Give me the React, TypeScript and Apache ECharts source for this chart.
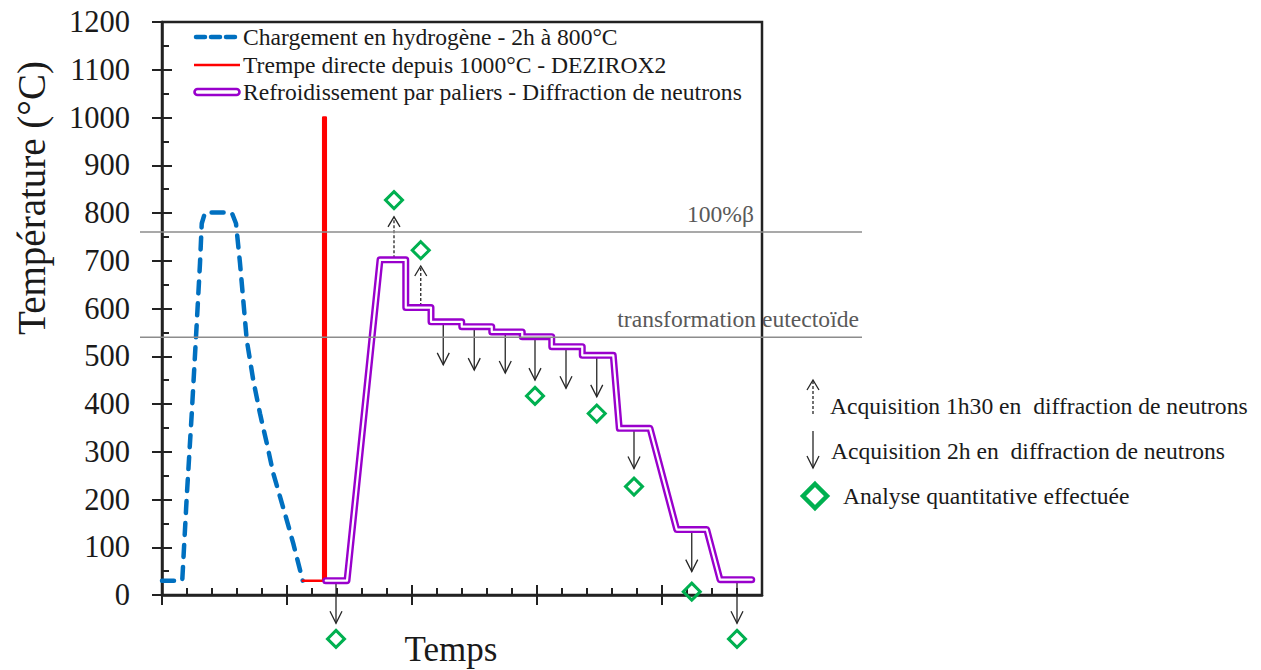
import React, { useEffect, useRef } from 'react';
import * as echarts from 'echarts';

const FONT = 'Liberation Serif';

// axis ticks
const xMajorTicks = [0, 5, 10, 15, 20];
const xMinorTicks = [0, 1, 2, 3, 4, 5, 6, 7, 8, 9, 10, 11, 12, 13, 14, 15, 16, 17, 18, 19, 20, 21, 22, 23, 24];
const yMajorTicks = [0, 100, 200, 300, 400, 500, 600, 700, 800, 900, 1000, 1100, 1200];
const yMinorTicks = [0, 50, 100, 150, 200, 250, 300, 350, 400, 450, 500, 550, 600, 650, 700, 750, 800, 850, 900, 950, 1000, 1050, 1100, 1150, 1200];

// series (time in arbitrary units, temperature in °C)
const hydrogenCharge: [number, number][] = [
  [0, 30], [0.81, 30], [0.99, 206], [1.19, 380], [1.39, 569], [1.52, 695], [1.59, 778], [1.72, 801],
  [2.79, 801], [2.96, 778], [3.12, 695], [3.39, 534], [3.65, 450], [3.92, 380], [4.19, 318],
  [4.45, 255], [4.72, 206], [4.99, 157], [5.25, 108], [5.63, 30],
];
const directQuench: [number, number][] = [
  [5.63, 30], [6.45, 30], [6.45, 1000], [6.55, 1000], [6.55, 30],
];
const stepCooling: [number, number][] = [
  [6.55, 30], [7.4, 30], [8.72, 702], [9.75, 702], [9.75, 602], [10.76, 602], [10.76, 572],
  [11.99, 572], [11.99, 562], [13.19, 562], [13.19, 551], [14.41, 551], [14.41, 541],
  [15.59, 541], [15.59, 520], [16.81, 520], [16.81, 502], [18.05, 502], [18.29, 349],
  [19.52, 349], [20.59, 137], [21.79, 137], [22.32, 32], [23.59, 32],
];
// arrows: [time, from °C, to °C]
const acquisition1h30: [number, number, number][] = [
  [9.28, 705, 792], [10.35, 605, 689],
];
const acquisition2h: [number, number, number][] = [
  [6.96, 30, -59], [11.25, 570, 482], [12.49, 560, 471], [13.73, 550, 465], [14.92, 540, 450],
  [16.16, 520, 433], [17.39, 500, 415], [18.88, 349, 265], [21.19, 137, 49], [23.0, 32, -59],
];
const quantitativeAnalysis: [number, number][] = [
  [6.96, -92], [9.28, 827], [10.35, 722], [14.92, 417], [17.39, 380], [18.88, 227], [21.19, 7], [23.0, -92],
];
const thresholds = [760, 540];
const thresholdLabels = ['100%β', 'transformation eutectoïde'];

const seriesNames = [
  'Chargement en hydrogène - 2h à 800°C',
  'Trempe directe depuis 1000°C - DEZIROX2',
  'Refroidissement par paliers - Diffraction de neutrons',
];
const markerNames = [
  'Acquisition 1h30 en  diffraction de neutrons',
  'Acquisition 2h en  diffraction de neutrons',
  'Analyse quantitative effectuée',
];
const yAxisTitle = 'Température (°C)';
const xAxisTitle = 'Temps';

const BLUE = '#0070C0';
const RED = '#FF0000';
const PURPLE = '#9900CC';
const GREEN = '#00B050';
const INK = '#1a1a1a';
const ARROW = '#262626';
const LEGEND_SIZE = 23.6;

const makeArrow = (dashed: boolean) => (params: any, api: any) => {
  const x = api.value(0);
  const p1 = api.coord([x, api.value(1)]);
  const p2 = api.coord([x, api.value(2)]);
  const dir = p2[1] > p1[1] ? 1 : -1;
  const hw = 6;
  const hh = dashed ? 10 : 12;
  return {
    type: 'group',
    children: [
      {
        type: 'line',
        shape: { x1: p1[0], y1: p1[1], x2: p2[0], y2: p2[1] },
        style: { stroke: ARROW, lineWidth: 1.3, lineDash: dashed ? [3, 2] : null },
      },
      {
        type: 'polyline',
        shape: { points: [[p2[0] - hw, p2[1] - dir * hh], [p2[0], p2[1]], [p2[0] + hw, p2[1] - dir * hh]] },
        style: { stroke: ARROW, lineWidth: 1.3, fill: 'none' },
      },
    ],
  };
};

const textStyle = (text: string, size: number, fill: string, align = 'left', vAlign = 'middle') => ({
  text,
  fill,
  fontFamily: FONT,
  fontSize: size,
  font: `${size}px "${FONT}", serif`,
  align,
  verticalAlign: vAlign,
  textAlign: align,
  textVerticalAlign: vAlign,
});

export default function App() {
  const ref = useRef<HTMLDivElement>(null);
  useEffect(() => {
    if (!ref.current) return;
    const chart = echarts.init(ref.current, undefined, { renderer: 'svg' });

    const baseX = { type: 'value', min: 0, max: 24, position: 'bottom', gridIndex: 0, splitLine: { show: false }, axisLabel: { show: false } };
    const baseY = { type: 'value', min: 0, max: 1200, position: 'left', gridIndex: 0, splitLine: { show: false } };

    const legendRows = [37, 65, 92];

    chart.setOption({
      animation: false,
      textStyle: { fontFamily: FONT },
      grid: { left: 162, top: 22, width: 600, height: 573, show: true, borderColor: '#222', borderWidth: 2.5, backgroundColor: 'transparent' },
      xAxis: [
        { ...baseX, interval: 5, axisLine: { show: true, onZero: false, lineStyle: { color: '#222', width: 2.5 } }, axisTick: { show: true, inside: false, length: 10, customValues: xMajorTicks, lineStyle: { color: '#222', width: 2 } } },
        { ...baseX, interval: 1, axisLine: { show: false, onZero: false }, axisTick: { show: true, inside: true, length: 7, customValues: xMinorTicks, lineStyle: { color: '#222', width: 2 } } },
        { ...baseX, interval: 5, axisLine: { show: false, onZero: false }, axisTick: { show: true, inside: true, length: 10, customValues: xMajorTicks, lineStyle: { color: '#222', width: 2 } } },
      ],
      yAxis: [
        {
          ...baseY, interval: 100,
          axisLine: { show: true, onZero: false, lineStyle: { color: '#222', width: 2.5 } },
          axisTick: { show: true, inside: false, length: 10, customValues: yMajorTicks, lineStyle: { color: '#222', width: 2 } },
          axisLabel: { show: true, margin: 32, fontFamily: FONT, fontSize: 30.5, color: INK, customValues: yMajorTicks, formatter: (v: number) => String(v) },
        },
        { ...baseY, interval: 50, axisLine: { show: false, onZero: false }, axisLabel: { show: false }, axisTick: { show: true, inside: true, length: 7, customValues: yMinorTicks, lineStyle: { color: '#222', width: 2 } } },
        { ...baseY, interval: 100, axisLine: { show: false, onZero: false }, axisLabel: { show: false }, axisTick: { show: true, inside: true, length: 10, customValues: yMajorTicks, lineStyle: { color: '#222', width: 2 } } },
      ],
      series: [
        {
          name: seriesNames[0], type: 'line', data: hydrogenCharge, symbol: 'none', z: 2,
          lineStyle: { color: BLUE, width: 4.5, type: [12, 10], cap: 'round', join: 'round' },
        },
        {
          name: seriesNames[1], type: 'line', data: directQuench, symbol: 'none', z: 2,
          lineStyle: { color: RED, width: 2.6, join: 'round', cap: 'round' },
        },
        {
          name: 'arrows2h', type: 'custom', renderItem: makeArrow(false), data: acquisition2h, clip: false, z: 1,
          encode: { x: 0, y: [1, 2] },
        },
        {
          name: 'arrows1h30', type: 'custom', renderItem: makeArrow(true), data: acquisition1h30, clip: false, z: 1,
          encode: { x: 0, y: [1, 2] },
        },
        {
          name: seriesNames[2], type: 'line', data: stepCooling, symbol: 'none', z: 3,
          lineStyle: { color: PURPLE, width: 7, join: 'round', cap: 'round' },
        },
        {
          name: 'inner', type: 'line', data: stepCooling, symbol: 'none', z: 3,
          lineStyle: { color: '#ffffff', width: 2.2, join: 'round', cap: 'round' },
        },
        {
          name: 'thresholds', type: 'custom', clip: false, z: 5,
          data: thresholds.map((t) => [0, t]),
          encode: { x: 0, y: 1 },
          renderItem: (params: any, api: any) => {
            const cs = params.coordSys;
            const y = api.coord([0, api.value(1)])[1];
            const idx = params.dataIndex;
            const left = cs.x - 22;
            const right = cs.x + cs.width + 100;
            const tx = idx === 0 ? cs.x + cs.width - 8 : right - 3;
            return {
              type: 'group',
              children: [
                { type: 'line', shape: { x1: left, y1: y, x2: right, y2: y }, style: { stroke: '#8c8c8c', lineWidth: 1.5 } },
                { type: 'text', x: tx, y: y - 6, style: textStyle(thresholdLabels[idx], LEGEND_SIZE, '#595959', 'right', 'bottom') },
              ],
            };
          },
        },
        {
          name: markerNames[2], type: 'scatter', data: quantitativeAnalysis, clip: false, z: 6,
          symbol: 'diamond', symbolSize: 17,
          itemStyle: { color: 'rgba(255,255,255,0)', borderColor: GREEN, borderWidth: 3, opacity: 1 },
        },
      ],
      graphic: [
        { type: 'text', x: 31, y: 198, rotation: Math.PI / 2, style: textStyle(yAxisTitle, 39, INK, 'center', 'middle') },
        { type: 'text', x: 451, y: 649, style: textStyle(xAxisTitle, 35, INK, 'center', 'middle') },
        // legend (series)
        { type: 'line', shape: { x1: 196, y1: legendRows[0], x2: 238, y2: legendRows[0] }, style: { stroke: BLUE, lineWidth: 4.5, lineDash: [9, 6], lineCap: 'round' } },
        { type: 'line', shape: { x1: 194, y1: legendRows[1], x2: 240, y2: legendRows[1] }, style: { stroke: RED, lineWidth: 2.5 } },
        { type: 'rect', shape: { x: 194.5, y: legendRows[2] - 3, width: 45, height: 6, r: 3 }, style: { stroke: PURPLE, lineWidth: 2.6, fill: '#fff' } },
        { type: 'text', x: 243, y: legendRows[0], style: textStyle(seriesNames[0], LEGEND_SIZE, INK) },
        { type: 'text', x: 243, y: legendRows[1], style: textStyle(seriesNames[1], LEGEND_SIZE, INK) },
        { type: 'text', x: 243, y: legendRows[2], style: textStyle(seriesNames[2], LEGEND_SIZE, INK) },
        // legend (markers)
        { type: 'line', shape: { x1: 813, y1: 414, x2: 813, y2: 380 }, style: { stroke: ARROW, lineWidth: 1.3, lineDash: [3, 2] } },
        { type: 'polyline', shape: { points: [[807, 390], [813, 380], [819, 390]] }, style: { stroke: ARROW, lineWidth: 1.3, fill: 'none' } },
        { type: 'line', shape: { x1: 813, y1: 431, x2: 813, y2: 468 }, style: { stroke: ARROW, lineWidth: 1.3 } },
        { type: 'polyline', shape: { points: [[807, 456], [813, 468], [819, 456]] }, style: { stroke: ARROW, lineWidth: 1.3, fill: 'none' } },
        { type: 'polygon', shape: { points: [[815, 484], [827, 496], [815, 508], [803, 496]] }, style: { stroke: GREEN, lineWidth: 4.5, fill: 'none' } },
        { type: 'text', x: 830, y: 406, style: textStyle(markerNames[0], LEGEND_SIZE, INK) },
        { type: 'text', x: 831, y: 451, style: textStyle(markerNames[1], LEGEND_SIZE, INK) },
        { type: 'text', x: 843, y: 496, style: textStyle(markerNames[2], LEGEND_SIZE, INK) },
      ],
    });
    return () => chart.dispose();
  }, []);
  return <div ref={ref} style={{ position: 'fixed', left: 0, top: 0, width: 1261, height: 670, background: '#fff' }} />;
}
